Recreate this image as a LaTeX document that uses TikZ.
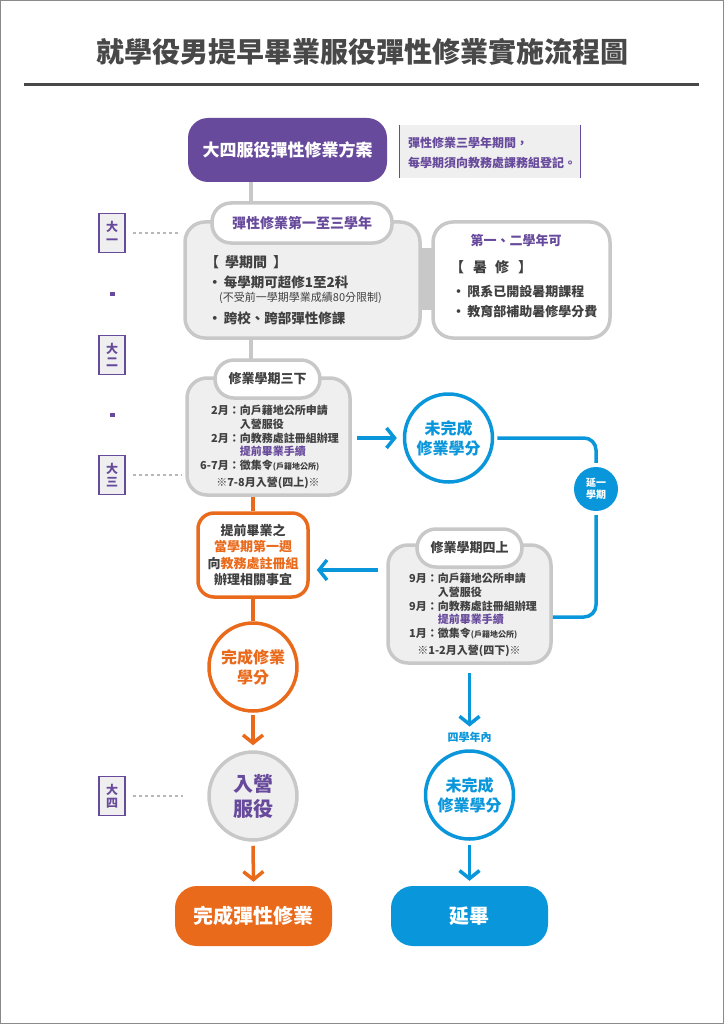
\documentclass[tikz,border=0pt]{standalone}
\usepackage{fontspec}
\setmainfont{Noto Sans CJK TC}
\usetikzlibrary{arrows.meta,calc}
\definecolor{pur}{HTML}{684A9C}
\definecolor{org}{HTML}{EA6A1C}
\definecolor{blu}{HTML}{0A96DA}
\definecolor{gfill}{HTML}{EFEFEF}
\definecolor{gline}{HTML}{C8C8C8}
\definecolor{dtext}{HTML}{404040}
\definecolor{dotc}{HTML}{B8B8B8}
\definecolor{ttl}{HTML}{484848}
\definecolor{frame}{HTML}{8A8A8A}
\newcommand{\myfs}[1]{\fontsize{#1}{#1}\selectfont}
\tikzset{
 gbox/.style={draw=gline, line width=3.5pt, fill=gfill, rounded corners=20pt, inner sep=0pt},
 wbox/.style={draw=gline, line width=3.5pt, fill=white, rounded corners=20pt, inner sep=0pt},
 tabpill/.style={draw=gline, line width=3.5pt, fill=white, rounded corners=19pt, inner sep=0pt, minimum height=38pt, font=\myfs{13}\bfseries, text=dtext},
 yearbox/.style={draw=pur, line width=1.3pt, fill=gfill, minimum width=26pt, minimum height=39pt, inner sep=0pt, align=center, text=pur, font=\fontsize{12}{13}\selectfont\bfseries},
 dotline/.style={draw=dotc, line width=1.6pt, dash pattern=on 3pt off 3pt},
 spine/.style={draw=gline, line width=3.5pt},
 oline/.style={draw=org, line width=3.5pt},
 bline/.style={draw=blu, line width=3.5pt},
 oarrow/.style={oline, -{Straight Barb[length=8pt,width=20pt]}},
 barrow/.style={bline, -{Straight Barb[length=8pt,width=20pt]}},
 txt/.style={inner sep=0pt, text=dtext},
 circnode/.style={circle, line width=3.5pt, minimum size=88pt, inner sep=0pt, align=center},
 endbox/.style={rounded corners=22pt, minimum width=157pt, minimum height=60pt, text=white, font=\myfs{20}\bfseries}
}
\begin{document}
\begin{tikzpicture}[x=1pt,y=-1pt]
\useasboundingbox (0,0) rectangle (724,1024);
\draw[draw=frame, line width=1.2pt] (0.6,0.6) rectangle (723.4,1023.4);
% title
\node[font=\myfs{28}\bfseries, text=ttl] (title) at (362,52) {就學役男提早畢業服役彈性修業實施流程圖};
\draw[draw=ttl, line width=3pt] (24,85) -- (699,85);
\coordinate (sp) at (251,0);
% top
\node[fill=pur, rounded corners=20pt, minimum width=199pt, minimum height=64pt, text=white, font=\myfs{17}\bfseries] (top) at (287.5,150) {大四服役彈性修業方案};
\node[fill=gfill, minimum width=180pt, minimum height=53pt, inner sep=0pt] (note) at (490,151.5) {};
\draw[draw=pur, line width=1.3pt] (note.north west) -- (note.south west);
\draw[draw=pur, line width=1.3pt] (note.north east) -- (note.south east);
\node[anchor=west, align=left, inner sep=0pt, text=pur, font=\fontsize{12}{20}\selectfont\bfseries] (notetxt) at (408,153) {彈性修業三學年期間，\\每學期須向教務處課務組登記。};
% box2 and box3
\fill[gline] (418,248) rectangle (435,310);
\node[gbox, minimum width=235pt, minimum height=116pt] (b2) at (302.5,280) {};
\node[wbox, minimum width=177pt, minimum height=116pt] (b3) at (521.5,280) {};
\draw[spine] (top.south -| sp) -- (b2.north -| sp);
\node[tabpill, minimum width=180pt, minimum height=40pt, text=pur, font=\myfs{14}\bfseries] (tab2) at (302,223) {彈性修業第一至三學年};
\node[txt, anchor=west, font=\myfs{14}\bfseries] (b2h) at (205,262) {【\hspace{6pt}學期間\hspace{6pt}】};
\node[txt, anchor=west, font=\myfs{13.5}\bfseries] (b2a) at (208,282) {•\,每學期可超修1至2科};
\node[txt, anchor=west, font=\myfs{11}] (b2b) at (219,298) {(不受前一學期學業成績80分限制)};
\node[txt, anchor=west, font=\myfs{13.5}\bfseries] (b2c) at (208,318) {•\,跨校、跨部彈性修課};
\node[txt, text=pur, font=\myfs{13}\bfseries] (b3t) at (516,240) {第一、二學年可};
\node[txt, anchor=west, font=\myfs{14}\bfseries] (b3h) at (450,267) {【\hspace{9pt}暑\hspace{8pt}修\hspace{9pt}】};
\node[txt, anchor=west, font=\myfs{13}\bfseries] (b3a) at (452,292) {•\,限系已開設暑期課程};
\node[txt, anchor=west, font=\myfs{13}\bfseries] (b3b) at (452,312) {•\,教育部補助暑修學分費};
% year labels
\node[yearbox] (y1) at (112,233) {大\\一};
\node[yearbox] (y2) at (112,355) {大\\二};
\node[yearbox] (y3) at (112,475) {大\\三};
\node[yearbox] (y4) at (112,796) {大\\四};
\fill[pur] (109.5,292) rectangle (114.5,296);
\fill[pur] (109.5,413) rectangle (114.5,417);
\draw[dotline, shorten <=7pt, shorten >=3pt] (y1.east) -- (y1.east -| b2.west);
% box4
\node[gbox, minimum width=163pt, minimum height=117pt] (b4) at (268.5,436.5) {};
\draw[spine] (b2.south -| sp) -- (b4.north -| sp);
\node[tabpill, minimum width=105pt] (tab4) at (267.5,379) {修業學期三下};
\node[txt, anchor=north west, font=\fontsize{11}{13.7}\selectfont\bfseries] (b4t) at (200,405) {\begin{tabular}{@{}r@{}l@{}}2月： & 向戶籍地公所申請\\ & 入營服役\\ 2月： & 向教務處註冊組辦理\\ & \textcolor{pur}{提前畢業手續}\\ 6-7月： & 徵集令{\myfs{8}(戶籍地公所)}\end{tabular}};
\node[txt, font=\myfs{11}\bfseries] (b4n) at (268,483) {※7-8月入營(四上)※};
\draw[dotline, shorten <=7pt, shorten >=3pt] (y3.east) -- (y3.east -| b4.west);
% blue circle 1
\node[circnode, draw=blu, fill=white, text=blu, font=\fontsize{16}{20}\selectfont\bfseries] (bc1) at (448.5,438) {未完成\\修業學分};
\draw[barrow, shorten <=5pt, shorten >=6pt] (b4.east |- bc1.west) -- (bc1.west);
\node[circle, fill=blu, minimum size=44pt, inner sep=0pt, text=white, align=center, font=\fontsize{10}{12}\selectfont\bfseries] (ext) at (596,489) {延一\\學期};
\draw[bline, rounded corners=12pt, shorten <=3pt, shorten >=4pt] (bc1.east) -| (ext.north);
% box5
\node[gbox, minimum width=163pt, minimum height=118pt] (b5) at (469.5,604) {};
\draw[bline, rounded corners=12pt, shorten <=4pt] (ext.south) |- ([yshift=-13pt]b5.east);
\node[tabpill, minimum width=105pt] (tab5) at (469.5,548) {修業學期四上};
\node[txt, anchor=north west, font=\fontsize{11}{13.7}\selectfont\bfseries] (b5t) at (409,573) {\begin{tabular}{@{}r@{}l@{}}9月： & 向戶籍地公所申請\\ & 入營服役\\ 9月： & 向教務處註冊組辦理\\ & \textcolor{pur}{提前畢業手續}\\ 1月： & 徵集令{\myfs{8}(戶籍地公所)}\end{tabular}};
\node[txt, font=\myfs{11}\bfseries] (b5n) at (469,651) {※1-2月入營(四下)※};
% orange box
\node[draw=org, line width=3.5pt, fill=white, rounded corners=16pt, minimum width=110pt, minimum height=84pt, inner sep=0pt, align=center, text=dtext, font=\fontsize{13}{16.5}\selectfont\bfseries] (ob) at (253,555) {提前畢業之\\\textcolor{org}{當學期第一週}\\向\textcolor{org}{教務處註冊組}\\辦理相關事宜};
\draw[oline] (ob.north |- b4.south) -- (ob.north);
\draw[barrow, shorten <=8pt, shorten >=7pt] ([yshift=-15pt]ob.east -| b5.west) -- ([yshift=-15pt]ob.east);
% orange circle
\node[circnode, draw=org, fill=white, text=org, font=\fontsize{16}{20}\selectfont\bfseries] (oc) at (253,667) {完成修業\\學分};
\draw[oline] (ob.south) -- (oc.north);
\node[circnode, draw=gline, fill=gfill, text=pur, font=\fontsize{20}{25}\selectfont\bfseries] (gc) at (253,796) {入營\\服役};
\draw[oarrow, shorten <=2pt, shorten >=5pt] (oc.south) -- (gc.north);
\coordinate (d4) at (183,796);
\draw[dotline, shorten <=7pt] (y4.east) -- (d4);
\node[endbox, fill=org] (of) at (253.5,916) {完成彈性修業};
\draw[oarrow, shorten <=4pt, shorten >=4pt] (gc.south) -- (of.north);
% blue lower
\node[txt, text=blu, font=\myfs{11}\bfseries] (lbl) at (469.5,737) {四學年內};
\draw[barrow, shorten <=8pt, shorten >=5pt] (b5.south) -- (lbl.north);
\node[circnode, draw=blu, fill=white, text=blu, font=\fontsize{16}{20}\selectfont\bfseries] (bc2) at (469.5,795) {未完成\\修業學分};
\node[endbox, fill=blu] (bf) at (469.5,916) {延畢};
\draw[barrow, shorten <=4pt, shorten >=5pt] (bc2.south) -- (bf.north);
\end{tikzpicture}
\end{document}
